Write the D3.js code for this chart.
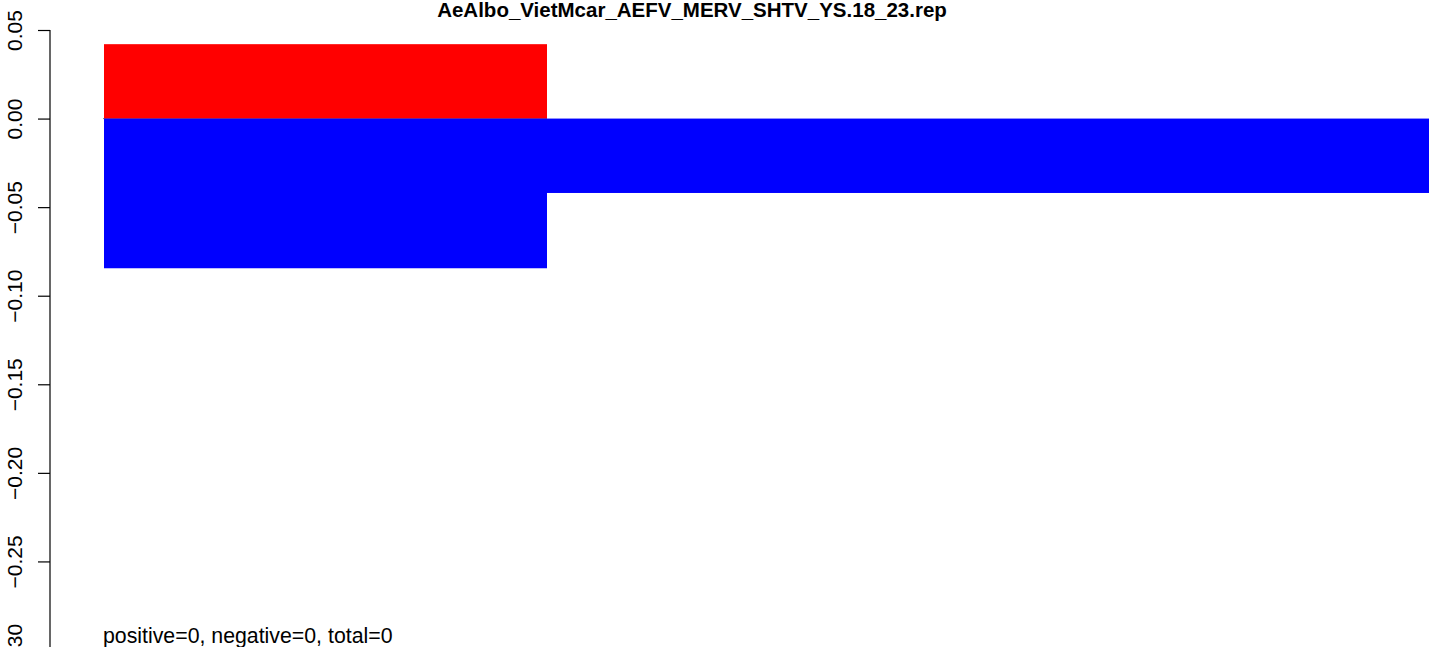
<!DOCTYPE html>
<html><head><meta charset="utf-8">
<script src="https://cdn.jsdelivr.net/npm/d3@7"></script>
<style>body{margin:0;background:#fff}svg{display:block}text{font-family:"Liberation Sans",Arial,Helvetica,sans-serif}</style>
</head><body><svg id="c" width="1429" height="647"></svg>
<script>
const title = "AeAlbo_VietMcar_AEFV_MERV_SHTV_YS.18_23.rep";
const footnote = "positive=0, negative=0, total=0";
const yTicks = [0.05, 0.00, -0.05, -0.10, -0.15, -0.20, -0.25, -0.30];
const binStart = [0, 1];
const binEnd = [1, 3];
const positiveValues = [0.042, 0];
const negativeValues = [-0.0845, -0.042];

const svg = d3.select("#c");
const W = 1429, H = 647;
const x = d3.scaleLinear().domain([0, 1]).range([104, 547]);
const y = d3.scaleLinear().domain([0.05, -0.30]).range([30, 650]);

svg.append("defs").append("clipPath").attr("id","clip")
  .append("rect").attr("x",0).attr("y",0).attr("width",W).attr("height",H);

const g = svg.append("g").attr("clip-path","url(#clip)");
g.append("line").attr("x1",x(0)-1).attr("x2",x(1)).attr("y1",y(0)).attr("y2",y(0)).attr("stroke","#888").attr("stroke-width",1);

const bins = binStart.map((s,i)=>({s, e: binEnd[i], p: positiveValues[i], n: negativeValues[i]}));
g.selectAll("rect.pos").data(bins.filter(d=>d.p>0)).join("rect")
  .attr("x", d=>x(d.s)).attr("width", d=>x(d.e)-x(d.s))
  .attr("y", d=>y(d.p)).attr("height", d=>y(0)-y(d.p)).attr("fill","#ff0000");
g.selectAll("rect.neg").data(bins.filter(d=>d.n<0)).join("rect")
  .attr("x", d=>x(d.s)).attr("width", d=>x(d.e)-x(d.s))
  .attr("y", d=>y(0)).attr("height", d=>y(d.n)-y(0)).attr("fill","#0000ff");

const axis = d3.axisLeft(y).tickValues(yTicks).tickSize(12)
  .tickFormat(d => d3.format(".2f")(d).replace("-", "\u2212"));
const ag = svg.append("g").attr("transform","translate(50,0)").call(axis);
ag.select(".domain").attr("d", `M0,${y(0.05)}V${H+5}`).attr("stroke","#000").attr("stroke-width",1.2);
ag.selectAll(".tick line").attr("stroke","#000").attr("stroke-width",1.2);
ag.selectAll(".tick text").attr("x",null).attr("dy",null)
  .attr("transform","translate(-28.5,0) rotate(-90)")
  .attr("text-anchor","middle").attr("font-size",21).attr("fill","#000")
  .attr("font-family","Liberation Sans, Arial, sans-serif");

svg.append("text").attr("x",692).attr("y",17).attr("text-anchor","middle")
  .attr("font-size",20.5).attr("font-weight","bold").text(title);
svg.append("text").attr("x",103).attr("y",643).attr("font-size",21.3).text(footnote);
</script></body></html>
